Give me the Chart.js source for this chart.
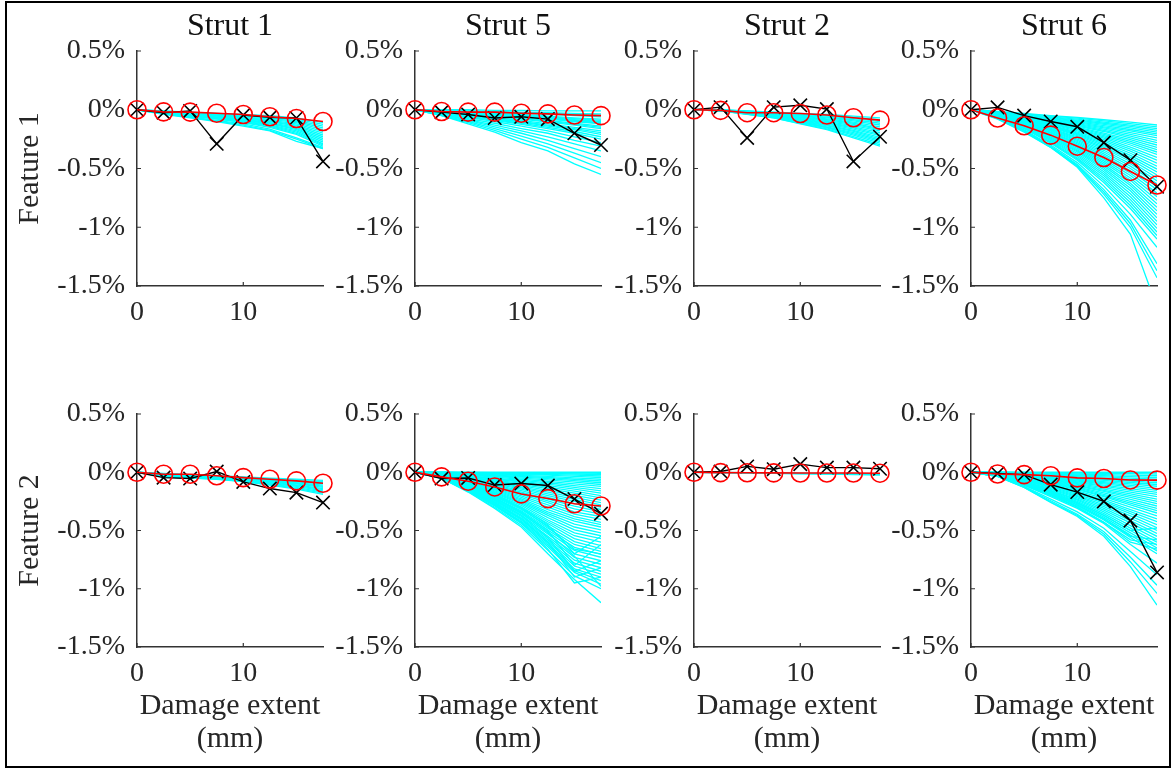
<!DOCTYPE html>
<html>
<head>
<meta charset="utf-8">
<script src="https://cdn.jsdelivr.net/npm/chart.js@4.4.1/dist/chart.umd.min.js"></script>
<style>
  html, body { margin: 0; padding: 0; background: #fff; }
  body { width: 1174px; height: 769px; position: relative; overflow: hidden; }
  canvas { position: absolute; }
  #frame { position: absolute; left: 5px; top: 1px; width: 1166px; height: 767px; border: 2px solid #000; box-sizing: border-box; pointer-events: none; }
</style>
</head>
<body>
<div id="frame"></div>
<script>
// ---------------- DATA ----------------
const xValues = [0, 2.5, 5, 7.5, 10, 12.5, 15, 17.5];   // damage extent (mm)
const xTicks = [0, 10];
const yTicks = [-1.5, -1, -0.5, 0, 0.5];                // %
const strutTitles = ['Strut 1', 'Strut 5', 'Strut 2', 'Strut 6'];
const featureLabels = ['Feature 1', 'Feature 2'];
const xAxisTitle = ['Damage extent', '(mm)'];

// Feature 1
const measured_F1_S1 = [0, -0.025, -0.01, -0.29, -0.045, -0.065, -0.07, -0.44];
const fitted_F1_S1   = [0, -0.018, -0.02, -0.03, -0.04, -0.06, -0.075, -0.10];
const sims_F1_S1 = [
  [0, -0.01, -0.02, -0.03, -0.04, -0.05, -0.07, -0.11],
  [0, -0.012, -0.022, -0.035, -0.045, -0.058, -0.08, -0.125],
  [0, -0.015, -0.025, -0.04, -0.05, -0.065, -0.09, -0.14],
  [0, -0.018, -0.028, -0.042, -0.055, -0.072, -0.10, -0.155],
  [0, -0.02, -0.03, -0.045, -0.06, -0.08, -0.11, -0.17],
  [0, -0.02, -0.032, -0.048, -0.065, -0.088, -0.12, -0.185],
  [0, -0.02, -0.035, -0.05, -0.07, -0.095, -0.13, -0.20],
  [0, -0.022, -0.038, -0.055, -0.075, -0.10, -0.14, -0.215],
  [0, -0.025, -0.04, -0.06, -0.08, -0.11, -0.15, -0.23],
  [0, -0.025, -0.042, -0.062, -0.085, -0.115, -0.16, -0.245],
  [0, -0.025, -0.045, -0.065, -0.09, -0.12, -0.17, -0.26],
  [0, -0.028, -0.048, -0.068, -0.095, -0.128, -0.18, -0.275],
  [0, -0.03, -0.05, -0.07, -0.10, -0.135, -0.19, -0.29],
  [0, -0.03, -0.052, -0.075, -0.105, -0.142, -0.20, -0.30],
  [0, -0.03, -0.055, -0.08, -0.11, -0.15, -0.21, -0.31],
  [0, -0.035, -0.06, -0.09, -0.12, -0.165, -0.24, -0.32],
  [0, -0.035, -0.065, -0.095, -0.13, -0.175, -0.25, -0.33],
  [0, -0.04, -0.07, -0.10, -0.14, -0.18, -0.27, -0.33]
];

const measured_F1_S5 = [0, -0.02, -0.04, -0.07, -0.06, -0.08, -0.20, -0.30];
const fitted_F1_S5   = [0, -0.015, -0.02, -0.02, -0.03, -0.035, -0.045, -0.05];
const sims_F1_S5 = [
  [0, 0, 0, -0.005, -0.005, -0.01, -0.01, -0.01],
  [0, -0.005, -0.01, -0.015, -0.02, -0.025, -0.03, -0.035],
  [0, -0.005, -0.01, -0.02, -0.025, -0.03, -0.04, -0.045],
  [0, -0.005, -0.015, -0.025, -0.03, -0.04, -0.05, -0.06],
  [0, -0.01, -0.02, -0.03, -0.04, -0.055, -0.07, -0.08],
  [0, -0.01, -0.02, -0.03, -0.045, -0.06, -0.075, -0.09],
  [0, -0.01, -0.025, -0.04, -0.05, -0.065, -0.085, -0.10],
  [0, -0.01, -0.025, -0.035, -0.05, -0.07, -0.09, -0.11],
  [0, -0.012, -0.028, -0.042, -0.055, -0.075, -0.095, -0.115],
  [0, -0.015, -0.03, -0.045, -0.06, -0.08, -0.10, -0.12],
  [0, -0.015, -0.035, -0.05, -0.07, -0.09, -0.115, -0.14],
  [0, -0.018, -0.038, -0.055, -0.075, -0.098, -0.122, -0.15],
  [0, -0.02, -0.04, -0.06, -0.08, -0.105, -0.13, -0.16],
  [0, -0.02, -0.045, -0.07, -0.09, -0.12, -0.15, -0.18],
  [0, -0.022, -0.048, -0.075, -0.10, -0.13, -0.16, -0.195],
  [0, -0.025, -0.05, -0.08, -0.105, -0.14, -0.17, -0.21],
  [0, -0.028, -0.055, -0.085, -0.115, -0.15, -0.185, -0.23],
  [0, -0.03, -0.06, -0.09, -0.125, -0.16, -0.20, -0.25],
  [0, -0.03, -0.065, -0.10, -0.14, -0.18, -0.23, -0.28],
  [0, -0.035, -0.075, -0.115, -0.16, -0.20, -0.26, -0.31],
  [0, -0.04, -0.085, -0.13, -0.18, -0.23, -0.29, -0.35],
  [0, -0.04, -0.09, -0.145, -0.20, -0.26, -0.33, -0.40],
  [0, -0.045, -0.10, -0.16, -0.225, -0.29, -0.37, -0.45],
  [0, -0.05, -0.11, -0.175, -0.25, -0.32, -0.41, -0.50],
  [0, -0.05, -0.12, -0.19, -0.28, -0.35, -0.46, -0.55]
];

const measured_F1_S2 = [0, 0.022, -0.24, 0.022, 0.038, 0.006, -0.44, -0.23];
const fitted_F1_S2   = [0, -0.005, -0.025, -0.025, -0.032, -0.045, -0.068, -0.088];
const sims_F1_S2 = [
  [0, 0, -0.01, -0.02, -0.03, -0.04, -0.055, -0.07],
  [0, -0.001, -0.011, -0.022, -0.035, -0.048, -0.065, -0.085],
  [0, -0.002, -0.012, -0.025, -0.04, -0.055, -0.075, -0.10],
  [0, -0.003, -0.013, -0.028, -0.045, -0.062, -0.085, -0.115],
  [0, -0.004, -0.015, -0.03, -0.05, -0.07, -0.095, -0.13],
  [0, -0.004, -0.018, -0.035, -0.055, -0.078, -0.105, -0.145],
  [0, -0.005, -0.02, -0.04, -0.06, -0.085, -0.115, -0.16],
  [0, -0.005, -0.022, -0.042, -0.065, -0.092, -0.125, -0.17],
  [0, -0.006, -0.024, -0.045, -0.07, -0.10, -0.135, -0.18],
  [0, -0.006, -0.025, -0.048, -0.075, -0.108, -0.145, -0.195],
  [0, -0.007, -0.027, -0.05, -0.08, -0.115, -0.155, -0.21],
  [0, -0.007, -0.028, -0.052, -0.085, -0.122, -0.165, -0.22],
  [0, -0.008, -0.03, -0.055, -0.09, -0.13, -0.175, -0.235],
  [0, -0.008, -0.032, -0.058, -0.095, -0.138, -0.185, -0.248],
  [0, -0.009, -0.033, -0.06, -0.10, -0.145, -0.195, -0.26],
  [0, -0.009, -0.035, -0.062, -0.105, -0.15, -0.205, -0.272],
  [0, -0.01, -0.036, -0.065, -0.11, -0.155, -0.215, -0.285],
  [0, -0.01, -0.038, -0.068, -0.115, -0.162, -0.228, -0.298],
  [0, -0.01, -0.04, -0.07, -0.12, -0.17, -0.24, -0.31]
];

const measured_F1_S6 = [0, 0.02, -0.05, -0.10, -0.145, -0.28, -0.43, -0.655];
const fitted_F1_S6   = [0, -0.07, -0.136, -0.216, -0.31, -0.406, -0.525, -0.64];
const sims_F1_S6 = [
  [0, -0.015, -0.03, -0.05, -0.065, -0.085, -0.105, -0.13],
  [0, -0.017, -0.035, -0.055, -0.072, -0.095, -0.118, -0.145],
  [0, -0.02, -0.04, -0.06, -0.08, -0.105, -0.13, -0.16],
  [0, -0.02, -0.042, -0.065, -0.088, -0.115, -0.142, -0.175],
  [0, -0.02, -0.045, -0.07, -0.095, -0.125, -0.155, -0.19],
  [0, -0.022, -0.048, -0.075, -0.102, -0.135, -0.168, -0.205],
  [0, -0.025, -0.05, -0.08, -0.11, -0.145, -0.18, -0.22],
  [0, -0.025, -0.052, -0.085, -0.118, -0.155, -0.195, -0.24],
  [0, -0.025, -0.055, -0.09, -0.125, -0.165, -0.21, -0.26],
  [0, -0.028, -0.058, -0.095, -0.132, -0.175, -0.225, -0.28],
  [0, -0.03, -0.06, -0.10, -0.14, -0.185, -0.24, -0.30],
  [0, -0.03, -0.062, -0.105, -0.148, -0.198, -0.255, -0.32],
  [0, -0.03, -0.065, -0.11, -0.155, -0.21, -0.27, -0.34],
  [0, -0.032, -0.07, -0.115, -0.162, -0.22, -0.285, -0.36],
  [0, -0.035, -0.075, -0.12, -0.17, -0.23, -0.30, -0.38],
  [0, -0.035, -0.078, -0.125, -0.18, -0.242, -0.318, -0.405],
  [0, -0.035, -0.08, -0.13, -0.19, -0.255, -0.335, -0.43],
  [0, -0.038, -0.082, -0.135, -0.198, -0.268, -0.352, -0.455],
  [0, -0.04, -0.085, -0.14, -0.205, -0.28, -0.37, -0.48],
  [0, -0.04, -0.088, -0.145, -0.212, -0.292, -0.388, -0.505],
  [0, -0.04, -0.09, -0.15, -0.22, -0.305, -0.405, -0.53],
  [0, -0.042, -0.095, -0.158, -0.23, -0.318, -0.422, -0.555],
  [0, -0.045, -0.10, -0.165, -0.24, -0.33, -0.44, -0.58],
  [0, -0.045, -0.102, -0.17, -0.25, -0.345, -0.46, -0.605],
  [0, -0.045, -0.105, -0.175, -0.26, -0.36, -0.48, -0.63],
  [0, -0.048, -0.108, -0.182, -0.27, -0.375, -0.50, -0.655],
  [0, -0.05, -0.11, -0.19, -0.28, -0.39, -0.52, -0.68],
  [0, -0.05, -0.115, -0.195, -0.29, -0.405, -0.54, -0.71],
  [0, -0.05, -0.12, -0.20, -0.30, -0.42, -0.56, -0.74],
  [0, -0.052, -0.122, -0.208, -0.31, -0.435, -0.58, -0.77],
  [0, -0.055, -0.125, -0.215, -0.32, -0.45, -0.60, -0.80],
  [0, -0.055, -0.128, -0.22, -0.33, -0.465, -0.625, -0.83],
  [0, -0.055, -0.13, -0.225, -0.34, -0.48, -0.645, -0.86],
  [0, -0.058, -0.135, -0.232, -0.35, -0.495, -0.668, -0.89],
  [0, -0.06, -0.14, -0.24, -0.36, -0.51, -0.69, -0.92],
  [0, -0.06, -0.142, -0.248, -0.372, -0.528, -0.715, -0.95],
  [0, -0.06, -0.145, -0.255, -0.385, -0.545, -0.74, -0.98],
  [0, -0.062, -0.15, -0.262, -0.398, -0.562, -0.765, -1.01],
  [0, -0.065, -0.155, -0.27, -0.41, -0.58, -0.79, -1.04],
  [0, -0.065, -0.158, -0.278, -0.42, -0.60, -0.815, -1.07],
  [0, -0.065, -0.16, -0.285, -0.43, -0.62, -0.84, -1.10],
  [0, -0.07, -0.17, -0.30, -0.45, -0.65, -0.89, -1.17],
  [0, -0.07, -0.175, -0.31, -0.465, -0.68, -0.94, -1.31],
  [0, -0.075, -0.18, -0.315, -0.475, -0.70, -0.97, -1.37],
  [0, -0.075, -0.185, -0.32, -0.48, -0.72, -1.00, -1.43],
  [0, -0.08, -0.19, -0.32, -0.49, -0.75, -1.06, -1.68]
];

// Feature 2
const measured_F2_S1 = [0, -0.046, -0.054, 0.006, -0.083, -0.14, -0.175, -0.26];
const fitted_F2_S1   = [0, -0.017, -0.017, -0.03, -0.046, -0.06, -0.074, -0.094];
const sims_F2_S1 = [
  [0, -0.01, -0.02, -0.03, -0.04, -0.05, -0.06, -0.07],
  [0, -0.012, -0.022, -0.032, -0.045, -0.055, -0.068, -0.08],
  [0, -0.015, -0.025, -0.035, -0.05, -0.06, -0.075, -0.09],
  [0, -0.018, -0.028, -0.038, -0.052, -0.065, -0.082, -0.10],
  [0, -0.02, -0.03, -0.04, -0.055, -0.07, -0.09, -0.11],
  [0, -0.022, -0.032, -0.042, -0.058, -0.075, -0.095, -0.12],
  [0, -0.025, -0.035, -0.045, -0.06, -0.08, -0.10, -0.13],
  [0, -0.028, -0.038, -0.048, -0.065, -0.085, -0.108, -0.14],
  [0, -0.03, -0.04, -0.05, -0.07, -0.09, -0.115, -0.15],
  [0, -0.032, -0.042, -0.052, -0.072, -0.095, -0.122, -0.16],
  [0, -0.035, -0.045, -0.055, -0.075, -0.10, -0.13, -0.17],
  [0, -0.038, -0.048, -0.058, -0.078, -0.105, -0.138, -0.18],
  [0, -0.04, -0.05, -0.06, -0.08, -0.11, -0.145, -0.19]
];

const measured_F2_S5 = [0, -0.054, -0.049, -0.11, -0.097, -0.114, -0.23, -0.355];
const fitted_F2_S5   = [0, -0.04, -0.077, -0.126, -0.186, -0.226, -0.27, -0.29];
const sims_F2_S5 = [
  [0, 0, 0, 0, 0, 0, 0, 0],
  [0, 0, -0.002, -0.003, -0.005, -0.006, -0.008, -0.01],
  [0, 0, -0.005, -0.005, -0.01, -0.01, -0.015, -0.02],
  [0, -0.002, -0.007, -0.01, -0.015, -0.018, -0.025, -0.032],
  [0, -0.005, -0.01, -0.015, -0.02, -0.025, -0.035, -0.045],
  [0, -0.005, -0.012, -0.02, -0.028, -0.035, -0.048, -0.06],
  [0, -0.005, -0.015, -0.025, -0.035, -0.045, -0.06, -0.075],
  [0, -0.008, -0.018, -0.03, -0.042, -0.055, -0.072, -0.09],
  [0, -0.01, -0.02, -0.035, -0.05, -0.065, -0.085, -0.105],
  [0, -0.01, -0.025, -0.042, -0.06, -0.078, -0.10, -0.122],
  [0, -0.01, -0.03, -0.05, -0.07, -0.09, -0.115, -0.14],
  [0, -0.012, -0.032, -0.055, -0.078, -0.102, -0.13, -0.16],
  [0, -0.015, -0.035, -0.06, -0.085, -0.115, -0.145, -0.18],
  [0, -0.015, -0.04, -0.068, -0.095, -0.128, -0.162, -0.20],
  [0, -0.015, -0.045, -0.075, -0.105, -0.14, -0.18, -0.22],
  [0, -0.018, -0.048, -0.08, -0.115, -0.155, -0.198, -0.24],
  [0, -0.02, -0.05, -0.085, -0.125, -0.17, -0.215, -0.26],
  [0, -0.02, -0.055, -0.092, -0.135, -0.185, -0.232, -0.28],
  [0, -0.02, -0.06, -0.10, -0.145, -0.20, -0.25, -0.30],
  [0, -0.022, -0.062, -0.108, -0.158, -0.215, -0.27, -0.32],
  [0, -0.025, -0.065, -0.115, -0.17, -0.23, -0.29, -0.34],
  [0, -0.025, -0.07, -0.122, -0.18, -0.245, -0.315, -0.36],
  [0, -0.025, -0.075, -0.13, -0.19, -0.26, -0.34, -0.38],
  [0, -0.028, -0.08, -0.138, -0.202, -0.28, -0.36, -0.405],
  [0, -0.03, -0.085, -0.145, -0.215, -0.30, -0.38, -0.43],
  [0, -0.03, -0.088, -0.152, -0.228, -0.32, -0.40, -0.45],
  [0, -0.03, -0.09, -0.16, -0.24, -0.34, -0.42, -0.47],
  [0, -0.032, -0.095, -0.168, -0.25, -0.355, -0.445, -0.495],
  [0, -0.035, -0.10, -0.175, -0.26, -0.37, -0.47, -0.52],
  [0, -0.035, -0.105, -0.182, -0.272, -0.39, -0.495, -0.545],
  [0, -0.035, -0.11, -0.19, -0.285, -0.41, -0.52, -0.57],
  [0, -0.038, -0.112, -0.198, -0.298, -0.425, -0.545, -0.60],
  [0, -0.04, -0.115, -0.205, -0.31, -0.44, -0.57, -0.63],
  [0, -0.04, -0.12, -0.212, -0.32, -0.46, -0.595, -0.655],
  [0, -0.04, -0.125, -0.22, -0.33, -0.48, -0.62, -0.68],
  [0, -0.042, -0.13, -0.228, -0.342, -0.495, -0.645, -0.705],
  [0, -0.045, -0.135, -0.235, -0.355, -0.51, -0.67, -0.73],
  [0, -0.045, -0.138, -0.242, -0.368, -0.53, -0.70, -0.76],
  [0, -0.045, -0.14, -0.25, -0.38, -0.55, -0.73, -0.79],
  [0, -0.048, -0.145, -0.258, -0.39, -0.565, -0.755, -0.82],
  [0, -0.05, -0.15, -0.265, -0.40, -0.58, -0.78, -0.85],
  [0, -0.05, -0.152, -0.272, -0.41, -0.595, -0.805, -0.875],
  [0, -0.05, -0.155, -0.28, -0.42, -0.61, -0.83, -0.90],
  [0, -0.05, -0.158, -0.285, -0.43, -0.625, -0.845, -0.93],
  [0, -0.05, -0.16, -0.29, -0.44, -0.64, -0.86, -0.96],
  [0, -0.05, -0.165, -0.30, -0.455, -0.67, -0.89, -1.00],
  [0, -0.05, -0.17, -0.31, -0.47, -0.70, -0.92, -1.12],
  [0, -0.04, -0.13, -0.24, -0.37, -0.56, -0.85, -0.76],
  [0, -0.035, -0.12, -0.22, -0.34, -0.50, -0.80, -0.62],
  [0, -0.03, -0.10, -0.19, -0.30, -0.45, -0.70, -0.55],
  [0, -0.045, -0.14, -0.26, -0.40, -0.60, -0.90, -0.82],
  [0, -0.045, -0.15, -0.28, -0.43, -0.66, -0.95, -0.90],
  [0, -0.04, -0.12, -0.22, -0.35, -0.52, -0.72, -0.98],
  [0, -0.035, -0.11, -0.20, -0.31, -0.47, -0.66, -0.70]
];

const measured_F2_S2 = [0, 0.006, 0.05, 0.026, 0.07, 0.04, 0.04, 0.03];
const fitted_F2_S2   = [0, -0.003, -0.004, -0.005, -0.006, -0.006, -0.007, -0.008];
const sims_F2_S2 = [
  [0, -0.002, -0.004, -0.006, -0.008, -0.01, -0.012, -0.014],
  [0, -0.005, -0.008, -0.01, -0.012, -0.014, -0.016, -0.018],
  [0, -0.004, -0.007, -0.01, -0.013, -0.016, -0.02, -0.024]
];

const measured_F2_S6 = [0, -0.01, -0.02, -0.106, -0.17, -0.25, -0.415, -0.86];
const fitted_F2_S6   = [0, -0.015, -0.02, -0.03, -0.048, -0.054, -0.066, -0.068];
const sims_F2_S6 = [
  [0, 0, 0, 0, 0, 0, 0, 0],
  [0, 0, -0.002, -0.005, -0.008, -0.01, -0.012, -0.015],
  [0, 0, -0.005, -0.01, -0.015, -0.02, -0.025, -0.03],
  [0, -0.002, -0.007, -0.015, -0.022, -0.03, -0.038, -0.045],
  [0, -0.005, -0.01, -0.02, -0.03, -0.04, -0.05, -0.06],
  [0, -0.005, -0.012, -0.025, -0.038, -0.05, -0.062, -0.075],
  [0, -0.005, -0.015, -0.03, -0.045, -0.06, -0.075, -0.09],
  [0, -0.008, -0.02, -0.035, -0.052, -0.07, -0.088, -0.105],
  [0, -0.01, -0.025, -0.04, -0.06, -0.08, -0.10, -0.12],
  [0, -0.01, -0.028, -0.045, -0.068, -0.09, -0.112, -0.138],
  [0, -0.01, -0.03, -0.05, -0.075, -0.10, -0.125, -0.155],
  [0, -0.01, -0.032, -0.055, -0.082, -0.11, -0.14, -0.172],
  [0, -0.01, -0.035, -0.06, -0.09, -0.12, -0.155, -0.19],
  [0, -0.012, -0.038, -0.065, -0.098, -0.132, -0.17, -0.21],
  [0, -0.015, -0.04, -0.07, -0.105, -0.145, -0.185, -0.23],
  [0, -0.015, -0.042, -0.075, -0.112, -0.155, -0.20, -0.25],
  [0, -0.015, -0.045, -0.08, -0.12, -0.165, -0.215, -0.27],
  [0, -0.015, -0.048, -0.085, -0.128, -0.178, -0.232, -0.29],
  [0, -0.015, -0.05, -0.09, -0.135, -0.19, -0.25, -0.31],
  [0, -0.018, -0.055, -0.095, -0.142, -0.20, -0.265, -0.33],
  [0, -0.02, -0.06, -0.10, -0.15, -0.21, -0.28, -0.35],
  [0, -0.02, -0.062, -0.108, -0.16, -0.225, -0.30, -0.375],
  [0, -0.02, -0.065, -0.115, -0.17, -0.24, -0.32, -0.40],
  [0, -0.02, -0.068, -0.12, -0.18, -0.252, -0.338, -0.425],
  [0, -0.02, -0.07, -0.125, -0.19, -0.265, -0.355, -0.45],
  [0, -0.022, -0.075, -0.132, -0.20, -0.28, -0.375, -0.475],
  [0, -0.025, -0.08, -0.14, -0.21, -0.295, -0.395, -0.50],
  [0, -0.025, -0.082, -0.148, -0.22, -0.31, -0.415, -0.525],
  [0, -0.025, -0.085, -0.155, -0.23, -0.325, -0.435, -0.55],
  [0, -0.025, -0.088, -0.16, -0.24, -0.34, -0.458, -0.575],
  [0, -0.025, -0.09, -0.165, -0.25, -0.355, -0.48, -0.60],
  [0, -0.028, -0.095, -0.172, -0.26, -0.37, -0.50, -0.625],
  [0, -0.03, -0.10, -0.18, -0.27, -0.385, -0.52, -0.65],
  [0, -0.03, -0.102, -0.188, -0.28, -0.398, -0.54, -0.675],
  [0, -0.03, -0.105, -0.195, -0.29, -0.41, -0.56, -0.70],
  [0, -0.03, -0.11, -0.21, -0.31, -0.44, -0.62, -0.78],
  [0, -0.035, -0.12, -0.23, -0.34, -0.48, -0.68, -0.88],
  [0, -0.035, -0.125, -0.245, -0.36, -0.51, -0.73, -0.97],
  [0, -0.035, -0.13, -0.255, -0.37, -0.53, -0.77, -1.04],
  [0, -0.035, -0.13, -0.26, -0.38, -0.55, -0.81, -1.14],
  [0, -0.03, -0.10, -0.19, -0.30, -0.43, -0.58, -0.62],
  [0, -0.025, -0.09, -0.17, -0.26, -0.37, -0.50, -0.48],
  [0, -0.028, -0.098, -0.18, -0.28, -0.40, -0.55, -0.58],
  [0, -0.032, -0.11, -0.20, -0.30, -0.43, -0.60, -0.66]
];

// ---------------- LAYOUT / STYLE ----------------
const FONT = "'Liberation Serif', 'Times New Roman', serif";
const AXIS_COLOR = '#333333';
const TEXT_COLOR = '#262626';
const AXIS_LEFT = [137, 415, 694, 971];   // pixel x of each column's y-axis
const PLOT_W = 186;
const Y_AXIS_W = 137;
const RIGHT_PAD = 25;

const panels = [
  {row: 0, col: 0, measured: measured_F1_S1, fitted: fitted_F1_S1, sims: sims_F1_S1},
  {row: 0, col: 1, measured: measured_F1_S5, fitted: fitted_F1_S5, sims: sims_F1_S5},
  {row: 0, col: 2, measured: measured_F1_S2, fitted: fitted_F1_S2, sims: sims_F1_S2},
  {row: 0, col: 3, measured: measured_F1_S6, fitted: fitted_F1_S6, sims: sims_F1_S6},
  {row: 1, col: 0, measured: measured_F2_S1, fitted: fitted_F2_S1, sims: sims_F2_S1},
  {row: 1, col: 1, measured: measured_F2_S5, fitted: fitted_F2_S5, sims: sims_F2_S5},
  {row: 1, col: 2, measured: measured_F2_S2, fitted: fitted_F2_S2, sims: sims_F2_S2},
  {row: 1, col: 3, measured: measured_F2_S6, fitted: fitted_F2_S6, sims: sims_F2_S6}
];

const toPoints = arr => arr.map((v, i) => ({x: xValues[i], y: v}));

const inwardTicks = {
  id: 'inwardTicks',
  beforeDatasetsDraw(chart) {
    const {ctx, chartArea: a, scales: {x, y}} = chart;
    ctx.save();
    ctx.strokeStyle = AXIS_COLOR;
    ctx.lineWidth = 1.2;
    ctx.beginPath();
    y.ticks.forEach(t => { const py = y.getPixelForValue(t.value); ctx.moveTo(a.left, py); ctx.lineTo(a.left + 4, py); });
    x.ticks.forEach(t => { const px = x.getPixelForValue(t.value); ctx.moveTo(px, a.bottom); ctx.lineTo(px, a.bottom - 4); });
    ctx.stroke();
    ctx.restore();
  }
};

function fmtPct(v) {
  return (Math.round(v * 10) / 10) + '%';
}

panels.forEach(p => {
  const cv = document.createElement('canvas');
  const top = p.row === 0 ? 0 : 384;
  const height = p.row === 0 ? 340 : 372;
  const width = Y_AXIS_W + PLOT_W + RIGHT_PAD;
  cv.width = width; cv.height = height;
  cv.style.left = (AXIS_LEFT[p.col] - Y_AXIS_W) + 'px';
  cv.style.top = top + 'px';
  cv.style.width = width + 'px'; cv.style.height = height + 'px';
  document.body.appendChild(cv);

  const datasets = [
    {data: toPoints(p.fitted), borderColor: '#ff0000', borderWidth: 1.6, pointStyle: 'circle',
     pointRadius: 9, pointBorderWidth: 1.6, pointBackgroundColor: 'rgba(0,0,0,0)', pointBorderColor: '#ff0000',
     tension: 0, clip: false},
    {data: toPoints(p.measured), borderColor: '#000000', borderWidth: 1.4, pointStyle: 'crossRot',
     pointRadius: 9.5, pointBorderWidth: 1.6, pointBorderColor: '#000000', tension: 0, clip: false}
  ];
  p.sims.forEach(s => datasets.push({data: toPoints(s), borderColor: '#00ffff', borderWidth: 1.3, pointRadius: 0, tension: 0}));

  const xBottomH = p.row === 0 ? 54 : 109;

  new Chart(cv, {
    type: 'line',
    data: {datasets},
    options: {
      responsive: false,
      animation: false,
      devicePixelRatio: 1,
      layout: {padding: {top: p.row === 0 ? 0 : 30, right: RIGHT_PAD, left: 0, bottom: 0}},
      plugins: {
        legend: {display: false},
        tooltip: {enabled: false},
        title: {
          display: p.row === 0,
          text: strutTitles[p.col],
          fullSize: false,
          color: '#111111',
          font: {family: FONT, size: 32, weight: 'normal', lineHeight: 1.2},
          padding: {top: 7, bottom: 5.6}
        }
      },
      scales: {
        x: {
          type: 'linear', min: 0, max: 17.5,
          afterBuildTicks: s => { s.ticks = xTicks.map(v => ({value: v})); },
          afterFit: s => { s.height = xBottomH; },
          grid: {display: false, drawTicks: false},
          border: {display: true, color: AXIS_COLOR, width: 1.5},
          ticks: {font: {family: FONT, size: 28}, color: TEXT_COLOR, padding: 10, maxRotation: 0, autoSkip: false,
                  callback: v => String(v)},
          title: {display: p.row === 1, text: xAxisTitle, color: TEXT_COLOR,
                  font: {family: FONT, size: 30, lineHeight: 1.1}, padding: {top: 0, bottom: 0}}
        },
        y: {
          type: 'linear', min: -1.5, max: 0.5,
          afterBuildTicks: s => { s.ticks = yTicks.map(v => ({value: v})); },
          afterFit: s => { s.width = Y_AXIS_W; },
          grid: {display: false, drawTicks: false},
          border: {display: true, color: AXIS_COLOR, width: 1.5},
          ticks: {font: {family: FONT, size: 28}, color: TEXT_COLOR, padding: 12, autoSkip: false,
                  callback: v => fmtPct(v)},
          title: {display: p.col === 0, text: featureLabels[p.row], color: TEXT_COLOR,
                  font: {family: FONT, size: 30, lineHeight: 1.2}, padding: {top: 12, bottom: 0}}
        }
      }
    },
    plugins: [inwardTicks]
  });
});
</script>
</body>
</html>
